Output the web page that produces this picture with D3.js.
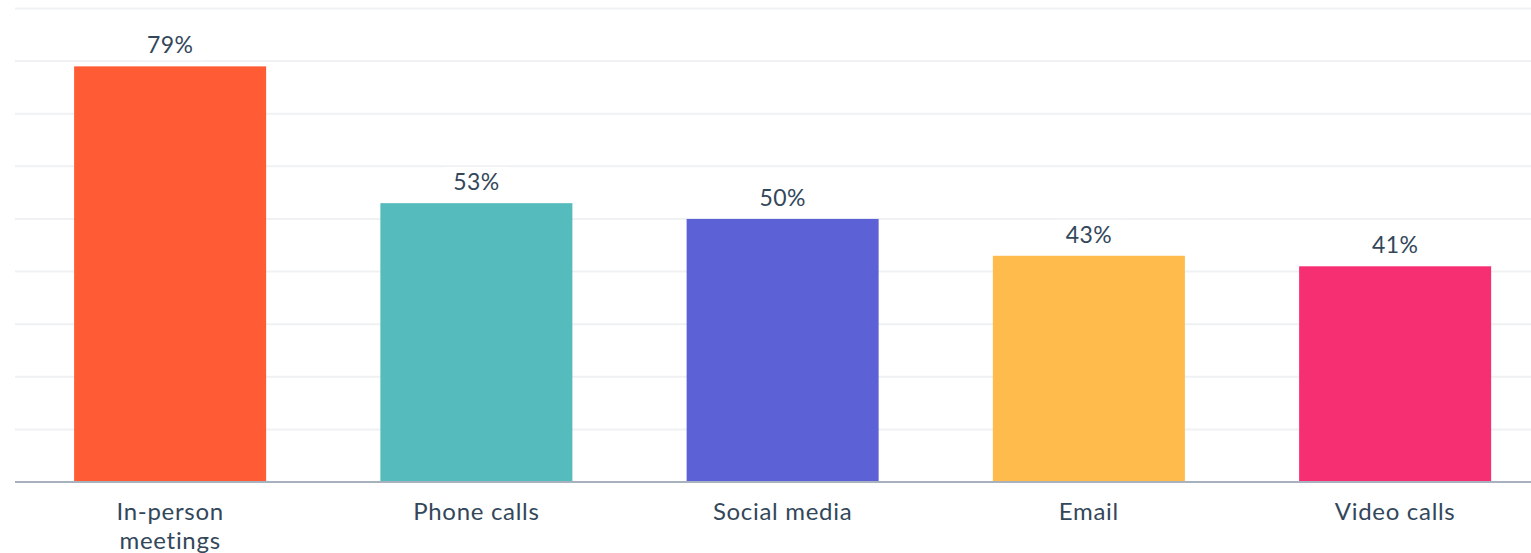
<!DOCTYPE html>
<html>
<head>
<meta charset="utf-8">
<script src="https://cdn.jsdelivr.net/npm/d3@7"></script>
<style>
  html, body { margin: 0; padding: 0; background: #fff; }
  svg { display: block; }
  text { font-family: "Lato", "Open Sans", sans-serif; font-weight: 400; fill: #33475b; }
</style>
</head>
<body>
<svg id="chart" width="1531" height="553"></svg>
<script>
// Channel share (%)
const categories = ["In-person meetings", "Phone calls", "Social media", "Email", "Video calls"];
const values = [79, 53, 50, 43, 41];
const colors = ["#ff5c35", "#56bbbd", "#5d61d6", "#ffbb4c", "#f62e72"];
const gridTicks = [0, 10, 20, 30, 40, 50, 60, 70, 80, 90];

const W = 1531, H = 553;
const svg = d3.select("#chart");

const x = d3.scaleBand()
  .domain(categories)
  .range([17, 1548.25])
  .paddingInner(0.373)
  .paddingOuter(0.1865);

const y = d3.scaleLinear().domain([0, 90]).range([482, 8.5]);

// horizontal gridlines
svg.append("g").selectAll("line")
  .data(gridTicks.filter(t => t > 0))
  .join("line")
  .attr("x1", 15).attr("x2", W)
  .attr("y1", d => y(d)).attr("y2", d => y(d))
  .attr("stroke", "#eff1f3").attr("stroke-width", 2);

// bars
svg.append("g").selectAll("rect")
  .data(categories)
  .join("rect")
  .attr("x", d => x(d))
  .attr("width", x.bandwidth())
  .attr("y", (d, i) => y(values[i]))
  .attr("height", (d, i) => y(0) - y(values[i]))
  .attr("fill", (d, i) => colors[i]);

// baseline axis
svg.append("line")
  .attr("x1", 15).attr("x2", W)
  .attr("y1", y(0)).attr("y2", y(0))
  .attr("stroke", "#a8b2bf").attr("stroke-width", 2);

// value labels with white backing
const vl = svg.append("g").selectAll("g")
  .data(categories)
  .join("g")
  .attr("transform", (d, i) => `translate(${x(d) + x.bandwidth() / 2},${y(values[i]) - 13})`);
vl.append("rect").attr("class", "bg");
vl.append("text")
  .attr("text-anchor", "middle")
  .style("font-size", "23px")
  .style("letter-spacing", "0.4px")
  .text((d, i) => values[i] + "%");
vl.each(function () {
  const t = d3.select(this).select("text").node();
  const b = t.getBBox();
  d3.select(this).select("rect")
    .attr("x", b.x - 10).attr("y", b.y)
    .attr("width", b.width + 20).attr("height", b.height + 2)
    .attr("fill", "#fff");
});

// category labels, wrapped when wider than the label box
const wrapW = 160;
svg.append("g").selectAll("text")
  .data(categories)
  .join("text")
  .attr("text-anchor", "middle")
  .attr("x", d => x(d) + x.bandwidth() / 2)
  .attr("y", 520)
  .style("font-size", "24px")
  .style("letter-spacing", "0.7px")
  .each(function (d) {
    const el = d3.select(this);
    const cx = x(d) + x.bandwidth() / 2;
    const words = d.split(" ");
    let line = [];
    let ts = el.append("tspan").attr("x", cx).attr("dy", 0);
    for (const w of words) {
      line.push(w);
      ts.text(line.join(" "));
      if (ts.node().getComputedTextLength() > wrapW && line.length > 1) {
        line.pop();
        ts.text(line.join(" "));
        line = [w];
        ts = el.append("tspan").attr("x", cx).attr("dy", 28.5).text(w);
      }
    }
  });
</script>
</body>
</html>
